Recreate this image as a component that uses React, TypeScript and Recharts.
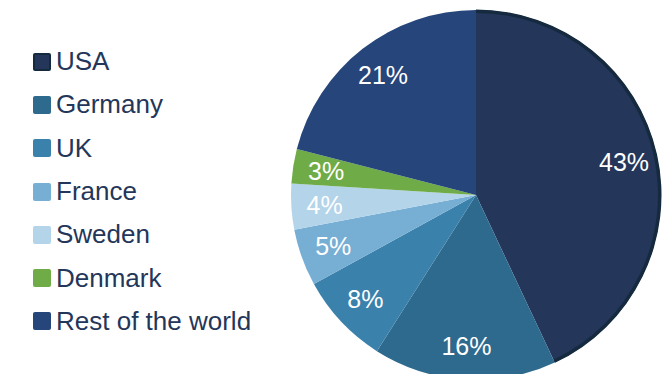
import { PieChart, Pie, Cell } from 'recharts';

const countries = ['USA', 'Germany', 'UK', 'France', 'Sweden', 'Denmark', 'Rest of the world'];
const shares = [43, 16, 8, 5, 4, 3, 21];
const colors = ['#243659', '#2e6a8e', '#3a81ac', '#76aed4', '#b4d4e9', '#6fac47', '#26457a'];

const data = countries.map((name, i) => ({ name, value: shares[i] }));
// outer rim drawn only around the USA slice
const rim = [
  { name: 'USA', value: shares[0] },
  { name: 'other', value: shares.slice(1).reduce((a, b) => a + b, 0) },
];

const RADIAN = Math.PI / 180;
const FONT = '"Liberation Sans", Arial, sans-serif';

const renderLabel = (props: any) => {
  const { cx, cy, midAngle, outerRadius, value } = props;
  const r = outerRadius * 0.82;
  const x = cx + r * Math.cos(-midAngle * RADIAN);
  const y = cy + r * Math.sin(-midAngle * RADIAN);
  return (
    <text x={x} y={y} fill="#fff" fontSize={25} fontFamily={FONT} textAnchor="middle" dominantBaseline="central">
      {`${value}%`}
    </text>
  );
};

function ChartLegend() {
  return (
    <div style={{ position: 'absolute', left: 33, top: 40, fontFamily: FONT }}>
      {countries.map((name, i) => (
        <div key={name} style={{ display: 'flex', alignItems: 'center', height: 43.3 }}>
          <span
            style={{
              width: 18,
              height: 18,
              background: colors[i],
              boxSizing: 'border-box',
              border: i === 0 ? '2px solid #152a3e' : 'none',
              borderRadius: 2,
              marginRight: 5,
            }}
          />
          <span style={{ fontSize: 26, color: '#243659' }}>{name}</span>
        </div>
      ))}
    </div>
  );
}

export default function App() {
  return (
    <div style={{ position: 'absolute', left: 0, top: 0, width: 665, height: 374 }}>
      <PieChart width={665} height={374} margin={{ top: 0, right: 0, bottom: 0, left: 0 }}>
        <Pie
          data={data}
          dataKey="value"
          cx={476}
          cy={195}
          outerRadius={185}
          startAngle={90}
          endAngle={-270}
          stroke="none"
          label={renderLabel}
          labelLine={false}
          isAnimationActive={false}
        >
          {data.map((d, i) => (
            <Cell key={d.name} fill={colors[i]} />
          ))}
        </Pie>
        <Pie
          data={rim}
          dataKey="value"
          cx={476}
          cy={195}
          innerRadius={182}
          outerRadius={185.5}
          startAngle={90}
          endAngle={-270}
          stroke="none"
          isAnimationActive={false}
        >
          <Cell fill="#152a3e" />
          <Cell fill="transparent" />
        </Pie>
      </PieChart>
      <ChartLegend />
    </div>
  );
}
